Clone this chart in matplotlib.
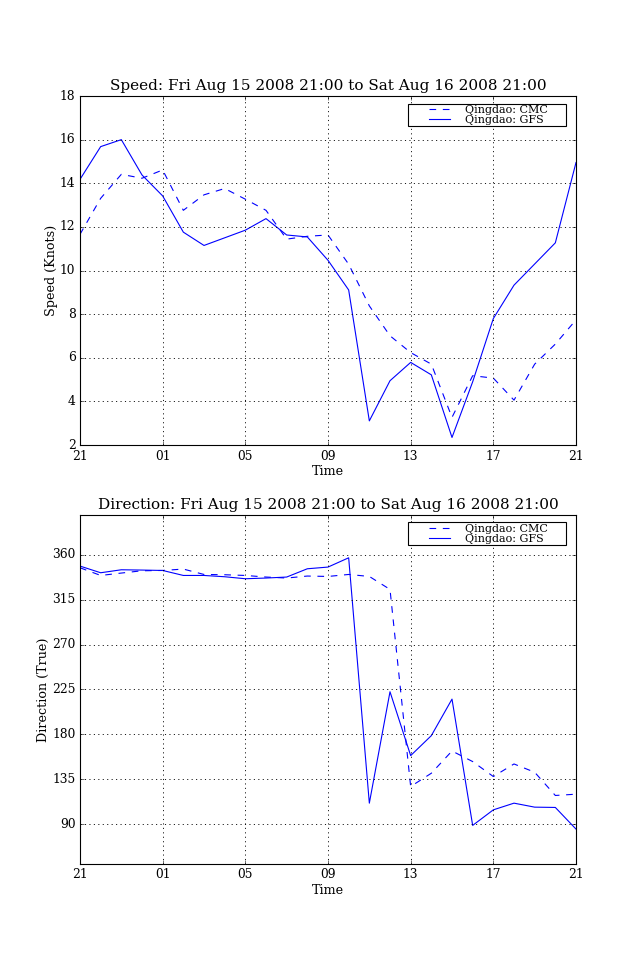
import datetime as dt
import matplotlib
matplotlib.use("Agg")
import matplotlib.pyplot as plt
import matplotlib.dates as mdates
from matplotlib.legend_handler import HandlerLine2D

plt.style.use("classic")
plt.rcParams["font.family"] = ["DejaVu Serif"]
plt.rcParams["axes.titlesize"] = 13.7
plt.rcParams["axes.labelsize"] = 11.5
plt.rcParams["xtick.labelsize"] = 11
plt.rcParams["ytick.labelsize"] = 11

# hourly forecast times, Fri Aug 15 2008 21:00 -> Sat Aug 16 2008 21:00
start = dt.datetime(2008, 8, 15, 21)
times = [start + dt.timedelta(hours=h) for h in range(25)]

speed_cmc = [11.66, 13.31, 14.41, 14.23, 14.61, 12.76, 13.47, 13.76, 13.27,
             12.76, 11.44, 11.57, 11.63, 10.29, 8.38, 7.01, 6.24, 5.71,
             3.27, 5.18, 5.07, 4.06, 5.71, 6.63, 7.74]
speed_gfs = [14.18, 15.68, 16.0, 14.38, 13.42, 11.76, 11.15, 11.5, 11.85,
             12.38, 11.63, 11.54, 10.47, 9.11, 3.11, 4.95, 5.79, 5.22,
             2.35, 4.9, 7.8, 9.33, 10.3, 11.27, 14.95]

dir_cmc = [347, 339.3, 341.7, 344, 344.3, 345.7, 340.3, 340, 339.3, 337.7,
           336.7, 338.7, 338.3, 340.3, 338.3, 325.3, 127.7, 141, 163.3,
           152.7, 137.7, 150.3, 142, 118.7, 120]
dir_gfs = [348.7, 342, 345, 344.7, 344.3, 339.3, 339.3, 338, 336, 336.7,
           337.7, 346, 347.7, 357, 111, 222.7, 158.7, 178.7, 215.3, 88.7,
           104.3, 111, 107, 106.7, 85]

dir_ticks = [90, 135, 180, 225, 270, 315, 360]

title_range = "Fri Aug 15 2008 21:00 to Sat Aug 16 2008 21:00"
pad = " " * 5  # old-style legend had wide side margins

fig, (ax1, ax2) = plt.subplots(2, 1, figsize=(8, 12), dpi=80)

ax1.plot(times, speed_cmc, "b--", label="Qingdao: CMC" + pad)
ax1.plot(times, speed_gfs, "b-", label="Qingdao: GFS" + pad)
ax1.set_title("Speed: " + title_range)
ax1.set_ylabel("Speed (Knots)", labelpad=2)
ax1.set_ylim(2, 18)

ax2.plot(times, dir_cmc, "b--", label="Qingdao: CMC" + pad)
ax2.plot(times, dir_gfs, "b-", label="Qingdao: GFS" + pad)
ax2.set_title("Direction: " + title_range)
ax2.set_ylabel("Direction (True)", labelpad=2)
ax2.set_ylim(50, 400)
ax2.set_yticks(dir_ticks)

for ax in (ax1, ax2):
    ax.set_xlim(times[0], times[-1])
    ax.set_xticks(times[::4])
    ax.xaxis.set_major_formatter(mdates.DateFormatter("%H"))
    ax.set_xlabel("Time", labelpad=2)
    ax.grid(True, color="k", linestyle=":", linewidth=0.8)
    handler = HandlerLine2D(marker_pad=1.79)
    ax.legend(loc="upper right", bbox_to_anchor=(0.98, 0.9785), borderaxespad=0,
              fontsize=10, labelspacing=0.05, borderpad=0.1,
              handlelength=5.47, handletextpad=-0.44, fancybox=False,
              handler_map={l: handler for l in ax.get_lines()})

fig.savefig("out.png", dpi=80)
